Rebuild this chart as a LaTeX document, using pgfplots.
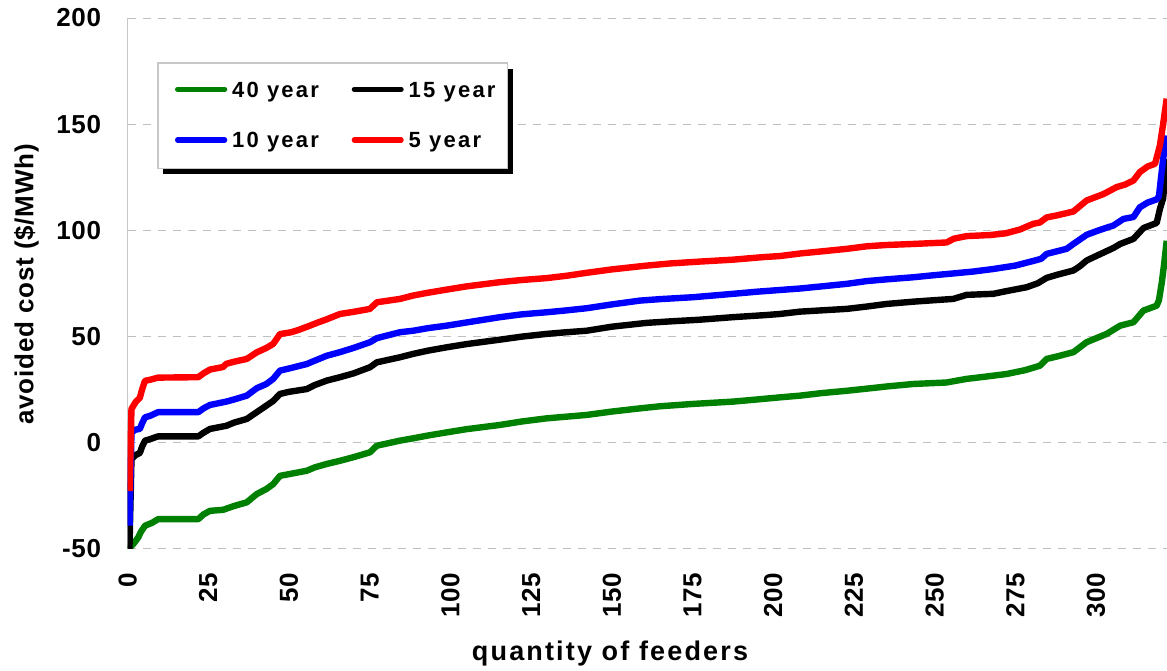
\documentclass[border=0pt]{standalone}
\usepackage{fontspec}
\setmainfont{Liberation Sans}
\newfontfamily\tickfont{Liberation Sans}[LetterSpace=3]
\newfontfamily\xlabfont{Liberation Sans}[LetterSpace=8]
\newfontfamily\ylabfont{Liberation Sans}[LetterSpace=3]
\newfontfamily\legfont{Liberation Sans}[LetterSpace=10]
\usepackage{pgfplots}
\pgfplotsset{compat=1.18}
\definecolor{cgreen}{RGB}{0,128,0}
\definecolor{cblue}{RGB}{0,0,255}
\definecolor{cred}{RGB}{255,0,0}
\begin{document}
\begin{tikzpicture}
\begin{axis}[
 scale only axis,
 width=519.7pt, height=265.2pt,
 xmin=0, xmax=322, ymin=-50, ymax=200,
 xtick={0,25,50,75,100,125,150,175,200,225,250,275,300},
 xticklabels={0,25,50,75,100,125,150,175,200,225,250,275,300},
 ytick={-50,0,50,100,150,200},
 yticklabels={-50,0,50,100,150,200},
 major tick length=0pt,
 axis x line*=bottom, axis y line*=left,
 x axis line style={draw=none,-},
 y axis line style={-, draw=black!22, line width=0.7pt},
 ymajorgrids,
 major grid style={dash pattern=on 4pt off 3.5pt, line width=0.5pt, draw=black!25},
 xticklabel style={rotate=90, anchor=east, inner sep=0pt, font=\tickfont\bfseries\fontsize{13}{15}\selectfont},
 xticklabel shift=12pt,
 yticklabel style={anchor=east, inner sep=0pt, font=\tickfont\bfseries\fontsize{13}{15}\selectfont},
 yticklabel shift=13pt,
 xlabel={quantity of feeders},
 ylabel={avoided cost (\$/MWh)},
 every axis x label/.style={at={(axis description cs:0.4641,-0.2106)}, anchor=base, inner sep=0pt, font=\xlabfont\bfseries\fontsize{13.5}{15}\selectfont},
 every axis y label/.style={at={(axis description cs:-0.0907,0.498)}, rotate=90, anchor=base, inner sep=0pt, font=\ylabfont\bfseries\fontsize{13}{15}\selectfont},
 every axis plot/.append style={line width=3.2pt, line join=round},
]
\coordinate (sw) at (rel axis cs:0,0);
\coordinate (nw) at (rel axis cs:0,1);
\coordinate (ne) at (rel axis cs:1,1);

\addplot[cgreen] coordinates {
(0.5,-55) (0.8,-49.5) (2,-47.5) (3.3,-44.8) (4.2,-42) (5.4,-39.3) (7.5,-38) (9.5,-36.2) (21.9,-36.2) (23.5,-34) (25.5,-32.3) (29.6,-31.8) (33,-30) (36.9,-28.3) (40,-24.4) (43,-22) (45.1,-19.7) (47.2,-15.8) (50,-15) (55.5,-13.4) (58,-11.8) (61.7,-10.2) (65.8,-8.7) (70,-7) (75.1,-4.7) (77.2,-1.6) (84.4,0.8) (88.5,1.9) (93,3.2) (98.9,4.7) (105,6.2) (115.4,8.2) (122,9.8) (129.8,11.3) (136,12.1) (142.2,12.9) (150,14.5) (158.7,16) (165,17) (175.2,18.1) (187.6,19.2) (195,20.2) (202.1,21.2) (208.3,22) (215,23.2) (222.8,24.3) (229,25.3) (235,26.3) (243.4,27.5) (253.7,28.2) (259.9,29.9) (266,31) (272.3,32.2) (278,34) (282.6,36.1) (284.7,39.3) (288,40.5) (293,42.5) (297.1,47.2) (303.3,51.1) (307.5,55) (311.6,56.6) (314.7,62.1) (318.8,64.4) (319.5,67) (320.4,75.5) (321.1,84) (321.9,95)
};

\addplot[black] coordinates {
(0.5,-55) (1.2,-7.9) (2.5,-6) (3.8,-5) (4.5,-2) (5.4,0.8) (7,1.5) (9.4,2.8) (21.9,2.8) (23.5,4.5) (25.5,6.3) (30.6,7.8) (33,9.3) (36.9,11) (40,14.2) (43,17.3) (45.1,19.5) (47.2,22.8) (50,23.8) (55.5,25.1) (58,27) (61.7,29.1) (65.8,30.7) (70,32.5) (75.1,35.4) (77.2,37.7) (84.4,40.1) (88.5,41.7) (93,43.2) (98.9,44.8) (105,46.3) (115.4,48.4) (122,49.8) (129.8,51.1) (136,51.9) (142.2,52.6) (150,54.5) (160.8,56.3) (168,57) (177.3,57.8) (187.6,59) (197.9,60) (202.1,60.5) (208.3,61.6) (215,62.2) (222.8,62.9) (229,64) (235,65.2) (243.4,66.3) (250,67) (255.8,67.6) (259.9,69.5) (268.2,70) (272,71.2) (278.5,73.1) (282,75) (284.7,77.5) (288,79) (293,81) (295,83) (297.1,85.7) (301,88.5) (305.4,91.6) (307.5,93.5) (311.6,95.9) (314.7,101) (318.8,103.4) (319.8,110) (320.8,115) (321.9,133.6)
};

\addplot[cblue] coordinates {
(0.6,-39.3) (1.2,4.7) (2.5,6) (3.8,6.3) (4.5,9) (5.4,11.8) (7,12.5) (9.4,14.2) (21.9,14.2) (23.5,16) (25.5,17.6) (30.6,19.2) (33,20.2) (36.9,22) (40,25.5) (43,27.5) (45.1,29.9) (47.2,33.8) (50,34.8) (55.5,36.9) (58,38.5) (61.7,40.8) (65.8,42.5) (70,44.5) (75.1,47.2) (77.2,49.1) (84.4,51.9) (88.5,52.6) (93,53.8) (98.9,55) (105,56.5) (115.4,59) (122,60.3) (129.8,61.3) (136,62.2) (142.2,63.2) (150,65) (158.7,66.8) (165,67.5) (175.2,68.4) (187.6,70) (195,71) (202.1,71.8) (208.3,72.5) (215,73.5) (222.8,74.7) (229,76) (235,76.8) (243.4,77.8) (250,78.8) (255.8,79.6) (262,80.5) (268.2,81.7) (275,83.3) (280.6,85.5) (283,86.5) (284.7,88.8) (290.9,91.2) (293,93.5) (297.1,97.8) (301,100) (305.4,102.2) (308.5,105.3) (311.6,106.2) (313.6,110.8) (316,113) (318.8,114.5) (319.5,116) (320.8,133.6) (321.9,144.6)
};

\addplot[cred] coordinates {
(0.6,-23) (1.2,15.7) (2.5,19) (3.8,21) (4.5,25) (5.4,29) (7,29.5) (9.4,30.5) (21.9,30.7) (23.5,32.5) (25.5,34.3) (29.6,35.5) (30.6,37) (33,38) (36.9,39.3) (40,42.4) (43,44.5) (45.1,46.4) (47.2,51) (50.7,51.9) (53,53) (56.5,55) (59,56.5) (61.7,58) (65.8,60.5) (70,61.5) (75.1,62.9) (77.2,66) (84.4,67.6) (88.5,69.2) (93,70.5) (98.9,72) (105,73.5) (115.4,75.5) (122,76.5) (129.8,77.4) (136,78.5) (142.2,79.9) (150,81.5) (160.8,83.3) (168,84.3) (177.3,85.2) (187.6,86.1) (196.9,87.3) (202.1,87.8) (208.3,89) (215,90) (222.8,91.2) (229,92.4) (235,93) (243.4,93.5) (253.7,94.2) (256,96) (259.9,97.2) (267.2,97.7) (272,98.5) (276.4,100.3) (280.6,103) (282.6,103.6) (284.7,106) (288,107) (293,108.8) (297.1,114) (302.3,117) (306.4,120.3) (309,121.5) (311.6,123.4) (313.6,127.4) (316,130) (318.3,131.3) (319.8,140) (320.8,150) (321.9,162)
};
\end{axis}
% legend box (drawn in pt relative to the axis top-left corner)
\begin{scope}[shift={(nw)}]
  \fill[black] (17.9pt,-25.3pt) rectangle (192.65pt,-77.95pt);
  \filldraw[fill=white, draw=black!22, line width=0.6pt] (15.2pt,-22.5pt) rectangle (189.85pt,-75.15pt);
  \begin{scope}[line width=2.6pt, line cap=round]
    \draw[cgreen] (25pt,-35.65pt) -- (48.55pt,-35.65pt);
    \draw[black]  (113.35pt,-35.65pt) -- (136.75pt,-35.65pt);
    \draw[cblue]  (25pt,-61pt) -- (48.55pt,-61pt);
    \draw[cred]   (113.35pt,-61pt) -- (136.75pt,-61pt);
  \end{scope}
  \begin{scope}[every node/.style={anchor=base west, inner sep=0pt, font=\legfont\bfseries\fontsize{11}{13}\selectfont}]
    \node at (52.05pt,-39.6pt) {40 year};
    \node at (140.35pt,-39.6pt) {15 year};
    \node at (52.05pt,-64.95pt) {10 year};
    \node at (140.35pt,-64.95pt) {5 year};
  \end{scope}
\end{scope}
\pgfresetboundingbox
\path (sw) ++(-63.8pt,-60.85pt) rectangle ([shift={(0pt,9pt)}]ne);
\end{tikzpicture}
\end{document}
